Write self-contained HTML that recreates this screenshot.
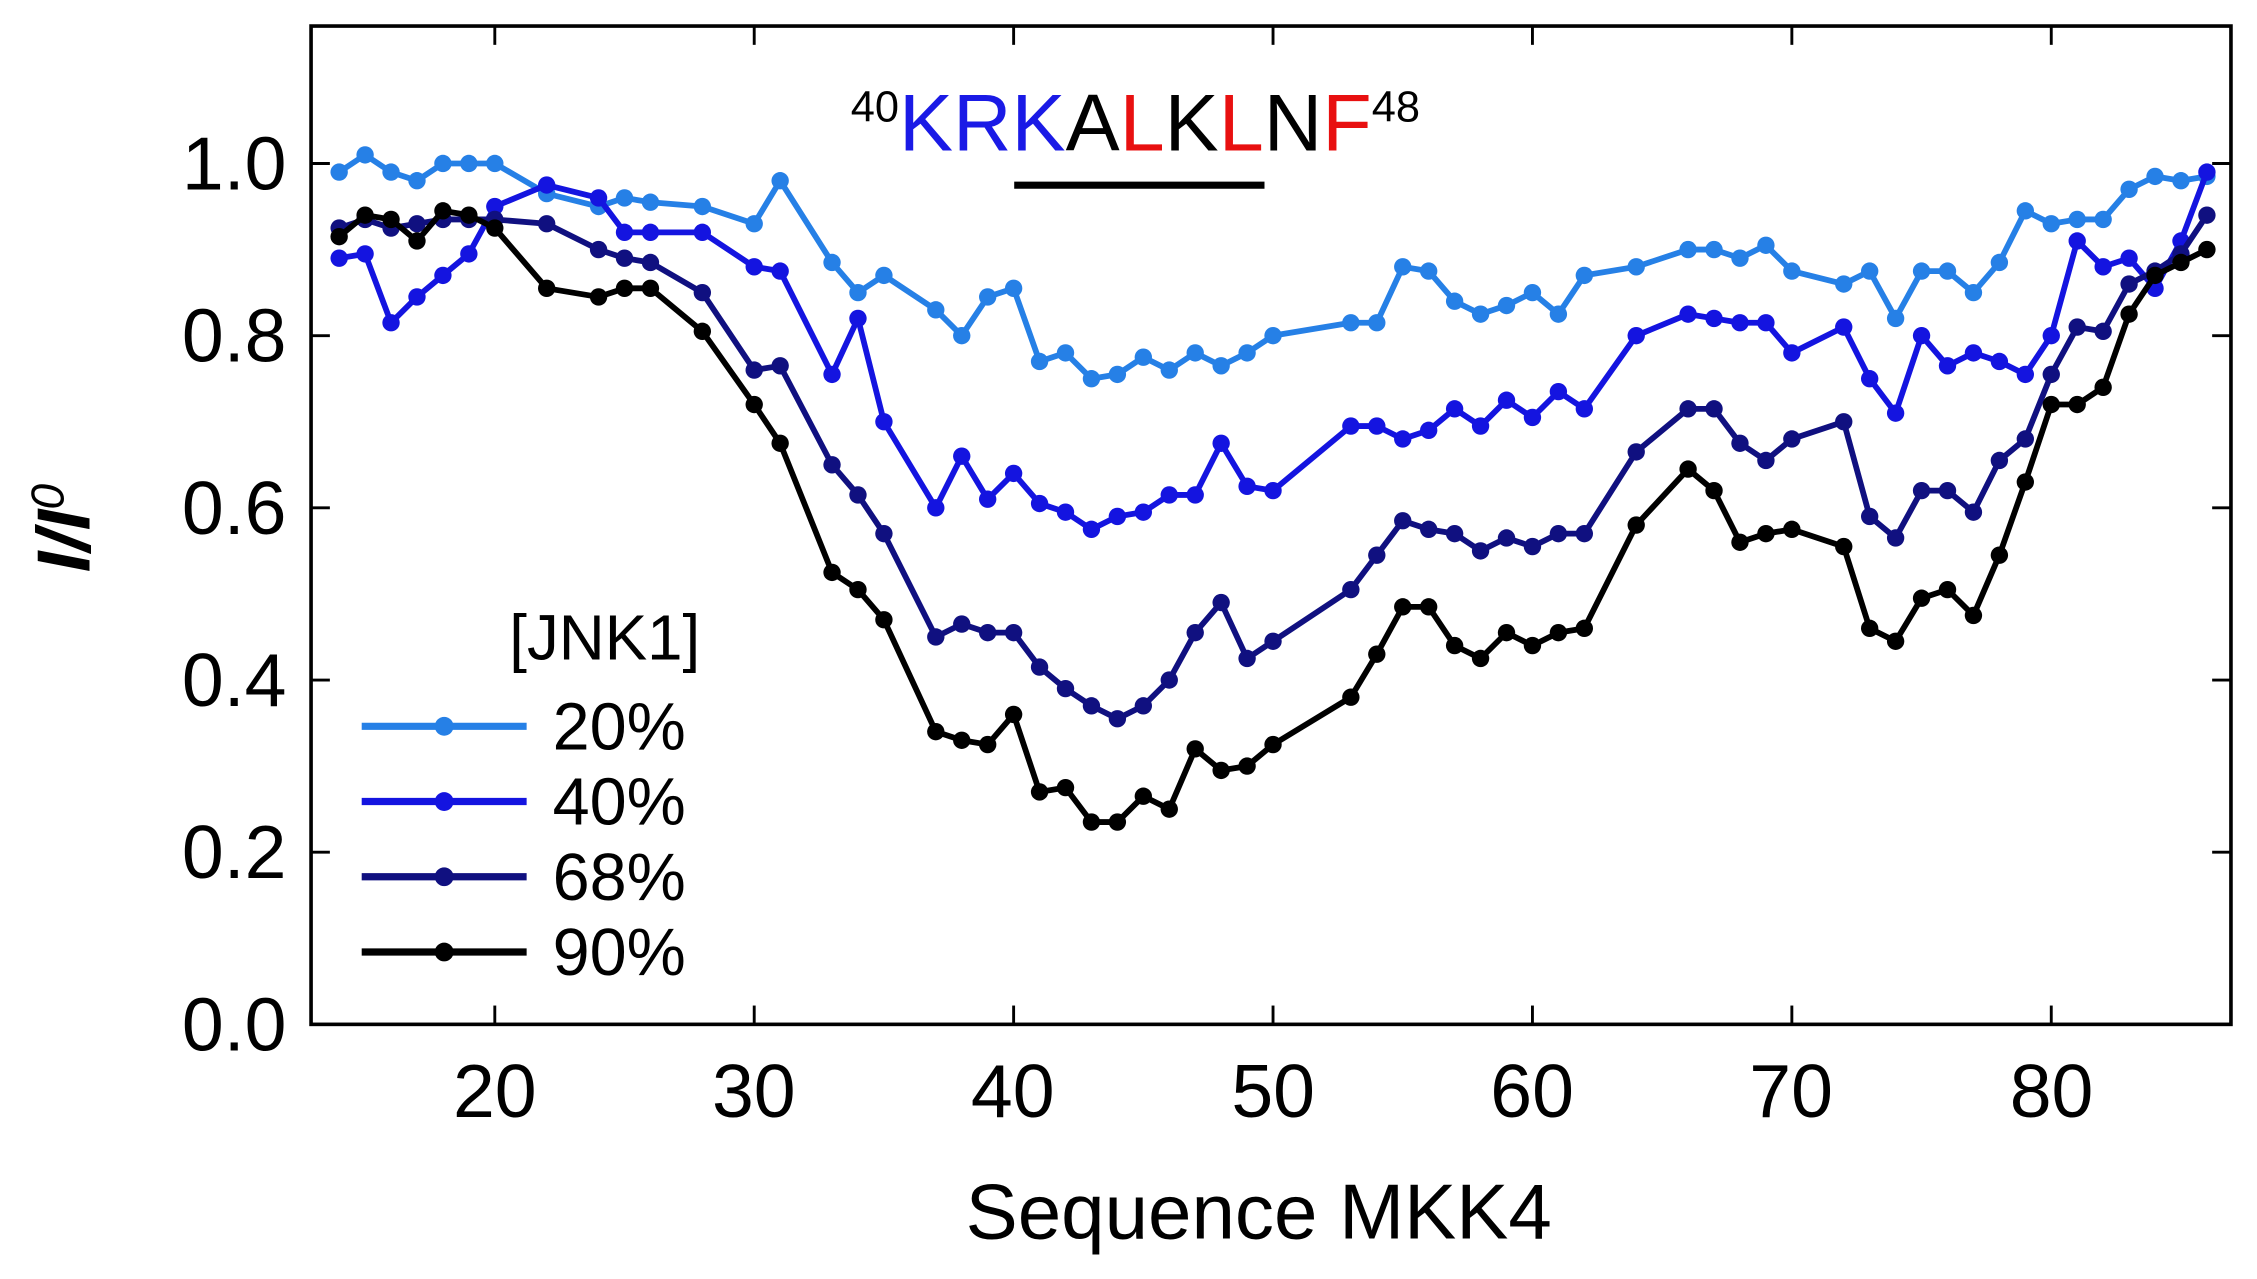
<!DOCTYPE html>
<html><head><meta charset="utf-8"><style>
html,body{margin:0;padding:0;background:#fff;}
svg{display:block;}
text{font-family:"Liberation Sans",sans-serif;}
</style></head><body>
<svg id="s" width="2257" height="1279" viewBox="0 0 1560 884" preserveAspectRatio="none" xmlns="http://www.w3.org/2000/svg">
<g id="g"></g>
<rect x="215" y="18" width="1327" height="690" fill="none" stroke="#000" stroke-width="2.5"/>
<text x="342" y="772" font-size="52" text-anchor="middle">20</text>
<text x="521" y="772" font-size="52" text-anchor="middle">30</text>
<text x="700" y="772" font-size="52" text-anchor="middle">40</text>
<text x="880" y="772" font-size="52" text-anchor="middle">50</text>
<text x="1059" y="772" font-size="52" text-anchor="middle">60</text>
<text x="1238" y="772" font-size="52" text-anchor="middle">70</text>
<text x="1418" y="772" font-size="52" text-anchor="middle">80</text>
<text x="198" y="726" font-size="52" text-anchor="end">0.0</text>
<text x="198" y="607" font-size="52" text-anchor="end">0.2</text>
<text x="198" y="488" font-size="52" text-anchor="end">0.4</text>
<text x="198" y="369" font-size="52" text-anchor="end">0.6</text>
<text x="198" y="250" font-size="52" text-anchor="end">0.8</text>
<text x="198" y="131" font-size="52" text-anchor="end">1.0</text>
<text x="870" y="856" font-size="54" text-anchor="middle">Sequence MKK4</text>
<text transform="translate(62,365) rotate(-90)" font-size="52" font-style="italic" font-weight="bold" text-anchor="middle">I/I<tspan dy="-18" font-size="32" font-weight="normal">0</tspan></text>
<text x="588" y="104" font-size="56"><tspan font-size="30" dy="-20">40</tspan><tspan dy="20" fill="#1a1ae6">KRK</tspan><tspan>A</tspan><tspan fill="#e81010">L</tspan><tspan>K</tspan><tspan fill="#e81010">L</tspan><tspan>N</tspan><tspan fill="#e81010">F</tspan><tspan font-size="30" dy="-20">48</tspan></text>
<line x1="701" y1="128" x2="874" y2="128" stroke="#000" stroke-width="5"/>
<text x="352" y="456" font-size="44">[JNK1]</text>
<g id="leg"></g>
</svg>
<script>
const X=v=>342+(v-20)*17.93, Y=v=>708-v*595;
const S=[
["#2680e6","14:0.99,15:1.01,16:0.99,17:0.98,18:1.0,19:1.0,20:1.0,22:0.965,24:0.95,25:0.96,26:0.955,28:0.95,30:0.93,31:0.98,33:0.885,34:0.85,35:0.87,37:0.83,38:0.80,39:0.845,40:0.855,41:0.77,42:0.78,43:0.75,44:0.755,45:0.775,46:0.76,47:0.78,48:0.765,49:0.78,50:0.80,53:0.815,54:0.815,55:0.88,56:0.875,57:0.84,58:0.825,59:0.835,60:0.85,61:0.825,62:0.87,64:0.88,66:0.90,67:0.90,68:0.89,69:0.905,70:0.875,72:0.86,73:0.875,74:0.82,75:0.875,76:0.875,77:0.85,78:0.885,79:0.945,80:0.93,81:0.935,82:0.935,83:0.97,84:0.985,85:0.98,86:0.985","20%"],
["#1414e0","14:0.89,15:0.895,16:0.815,17:0.845,18:0.87,19:0.895,20:0.95,22:0.975,24:0.96,25:0.92,26:0.92,28:0.92,30:0.88,31:0.875,33:0.755,34:0.82,35:0.70,37:0.60,38:0.66,39:0.61,40:0.64,41:0.605,42:0.595,43:0.575,44:0.59,45:0.595,46:0.615,47:0.615,48:0.675,49:0.625,50:0.62,53:0.695,54:0.695,55:0.68,56:0.69,57:0.715,58:0.695,59:0.725,60:0.705,61:0.735,62:0.715,64:0.80,66:0.825,67:0.82,68:0.815,69:0.815,70:0.78,72:0.81,73:0.75,74:0.71,75:0.80,76:0.765,77:0.78,78:0.77,79:0.755,80:0.80,81:0.91,82:0.88,83:0.89,84:0.855,85:0.91,86:0.99","40%"],
["#101080","14:0.925,15:0.935,16:0.925,17:0.93,18:0.935,19:0.935,20:0.935,22:0.93,24:0.90,25:0.89,26:0.885,28:0.85,30:0.76,31:0.765,33:0.65,34:0.615,35:0.57,37:0.45,38:0.465,39:0.455,40:0.455,41:0.415,42:0.39,43:0.37,44:0.355,45:0.37,46:0.40,47:0.455,48:0.49,49:0.425,50:0.445,53:0.505,54:0.545,55:0.585,56:0.575,57:0.57,58:0.55,59:0.565,60:0.555,61:0.57,62:0.57,64:0.665,66:0.715,67:0.715,68:0.675,69:0.655,70:0.68,72:0.70,73:0.59,74:0.565,75:0.62,76:0.62,77:0.595,78:0.655,79:0.68,80:0.755,81:0.81,82:0.805,83:0.86,84:0.875,85:0.895,86:0.94","68%"],
["#000000","14:0.915,15:0.94,16:0.935,17:0.91,18:0.945,19:0.94,20:0.925,22:0.855,24:0.845,25:0.855,26:0.855,28:0.805,30:0.72,31:0.675,33:0.525,34:0.505,35:0.47,37:0.34,38:0.33,39:0.325,40:0.36,41:0.27,42:0.275,43:0.235,44:0.235,45:0.265,46:0.25,47:0.32,48:0.295,49:0.30,50:0.325,53:0.38,54:0.43,55:0.485,56:0.485,57:0.44,58:0.425,59:0.455,60:0.44,61:0.455,62:0.46,64:0.58,66:0.645,67:0.62,68:0.56,69:0.57,70:0.575,72:0.555,73:0.46,74:0.445,75:0.495,76:0.505,77:0.475,78:0.545,79:0.63,80:0.72,81:0.72,82:0.74,83:0.825,84:0.87,85:0.885,86:0.90","90%"]];
let h="";
for(let v=20;v<=80;v+=10){const x=X(v);h+=`<line x1="${x}" y1="708" x2="${x}" y2="695" stroke="#000" stroke-width="2"/><line x1="${x}" y1="18" x2="${x}" y2="31" stroke="#000" stroke-width="2"/>`;}
for(let v=0.2;v<=1.01;v+=0.2){const y=Y(v);h+=`<line x1="215" y1="${y}" x2="228" y2="${y}" stroke="#000" stroke-width="2"/><line x1="1542" y1="${y}" x2="1529" y2="${y}" stroke="#000" stroke-width="2"/>`;}
S.forEach(([c,d])=>{const p=d.split(",").map(s=>s.split(":").map(Number));
h+=`<polyline fill="none" stroke="${c}" stroke-width="4" stroke-linejoin="round" points="${p.map(([a,b])=>X(a)+","+Y(b)).join(" ")}"/>`;
p.forEach(([a,b])=>h+=`<circle cx="${X(a)}" cy="${Y(b)}" r="6" fill="${c}"/>`);});
document.getElementById("g").innerHTML=h;
let l="";S.forEach(([c,,n],i)=>{const y=502+i*52;l+=`<line x1="250" y1="${y}" x2="364" y2="${y}" stroke="${c}" stroke-width="5"/><circle cx="307" cy="${y}" r="6.5" fill="${c}"/><text x="382" y="${y+16}" font-size="46">${n}</text>`;});
document.getElementById("leg").innerHTML=l;
</script>
</body></html>
